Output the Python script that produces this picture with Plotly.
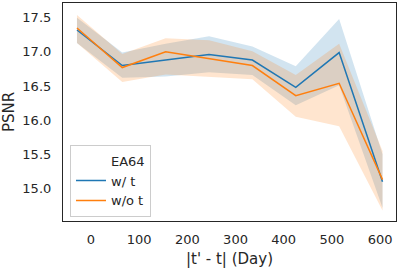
import plotly.graph_objects as go

# Data
days = [-29, 65, 155, 245, 335, 425, 515, 605]
with_t = [17.32, 16.80, 16.88, 16.96, 16.88, 16.48, 16.99, 15.10]
with_t_lo = [17.13, 16.62, 16.64, 16.70, 16.66, 16.22, 16.51, 14.72]
with_t_hi = [17.50, 16.99, 17.12, 17.23, 17.08, 16.79, 17.48, 15.50]
without_t = [17.35, 16.77, 17.00, 16.90, 16.80, 16.36, 16.54, 15.13]
without_t_lo = [17.13, 16.56, 16.67, 16.64, 16.60, 16.05, 15.91, 14.68]
without_t_hi = [17.54, 16.97, 17.20, 17.17, 17.01, 16.66, 17.12, 15.55]

x_ticks = [0, 100, 200, 300, 400, 500, 600]
y_ticks = [15.0, 15.5, 16.0, 16.5, 17.0, 17.5]

BLUE = "#1f77b4"
ORANGE = "#ff7f0e"
TXT = "#262626"
FONT = "DejaVu Sans"

fig = go.Figure()

# Confidence bands
for lo, hi, fillc in [(with_t_lo, with_t_hi, "rgba(31,119,180,0.2)"),
                      (without_t_lo, without_t_hi, "rgba(255,127,14,0.2)")]:
    fig.add_trace(go.Scatter(x=days, y=lo, mode="lines", line=dict(width=0),
                             showlegend=False, hoverinfo="skip"))
    fig.add_trace(go.Scatter(x=days, y=hi, mode="lines", line=dict(width=0),
                             fill="tonexty", fillcolor=fillc,
                             showlegend=False, hoverinfo="skip"))

# Legend title entry (seaborn-style hue title)
fig.add_trace(go.Scatter(x=[None], y=[None], mode="lines", name="EA64",
                         line=dict(color="rgba(0,0,0,0)", width=1.5)))

fig.add_trace(go.Scatter(x=days, y=with_t, mode="lines", name="w/ t",
                         line=dict(color=BLUE, width=1.5)))
fig.add_trace(go.Scatter(x=days, y=without_t, mode="lines", name="w/o t",
                         line=dict(color=ORANGE, width=1.5)))

fig.update_layout(
    width=401, height=268,
    margin=dict(l=63, r=5, t=3, b=47),
    paper_bgcolor="white", plot_bgcolor="white",
    font=dict(family=FONT, size=12, color=TXT),
    showlegend=True,
    legend=dict(x=0.021, y=0.02, xanchor="left", yanchor="bottom",
                traceorder="normal",
                bgcolor="rgba(255,255,255,0.8)", bordercolor="#cccccc",
                borderwidth=1, font=dict(size=13, family=FONT, color=TXT)),
)

fig.update_xaxes(
    range=[-58, 633], tickvals=x_ticks, ticktext=[str(v) for v in x_ticks],
    showgrid=False, zeroline=False, automargin=False,
    showline=True, mirror=True, linecolor=TXT, linewidth=1.2,
    ticks="outside", ticklen=6, tickcolor="rgba(0,0,0,0)",
    tickfont=dict(size=13, family=FONT, color=TXT),
    title=dict(text="|t' - t| (Day)", font=dict(size=15, family=FONT, color=TXT)),
)
fig.update_yaxes(
    range=[14.525, 17.715], tickvals=y_ticks, ticktext=[f"{v:.1f}" for v in y_ticks],
    showgrid=False, zeroline=False, automargin=False,
    showline=True, mirror=True, linecolor=TXT, linewidth=1.2,
    ticks="outside", ticklen=8, tickcolor="rgba(0,0,0,0)",
    tickfont=dict(size=13, family=FONT, color=TXT),
    title=dict(text="PSNR", font=dict(size=15, family=FONT, color=TXT)),
)

fig.write_html("out.html",
               config={"displayModeBar": False},
               post_script="document.body.style.margin='0';document.body.style.padding='0';")
